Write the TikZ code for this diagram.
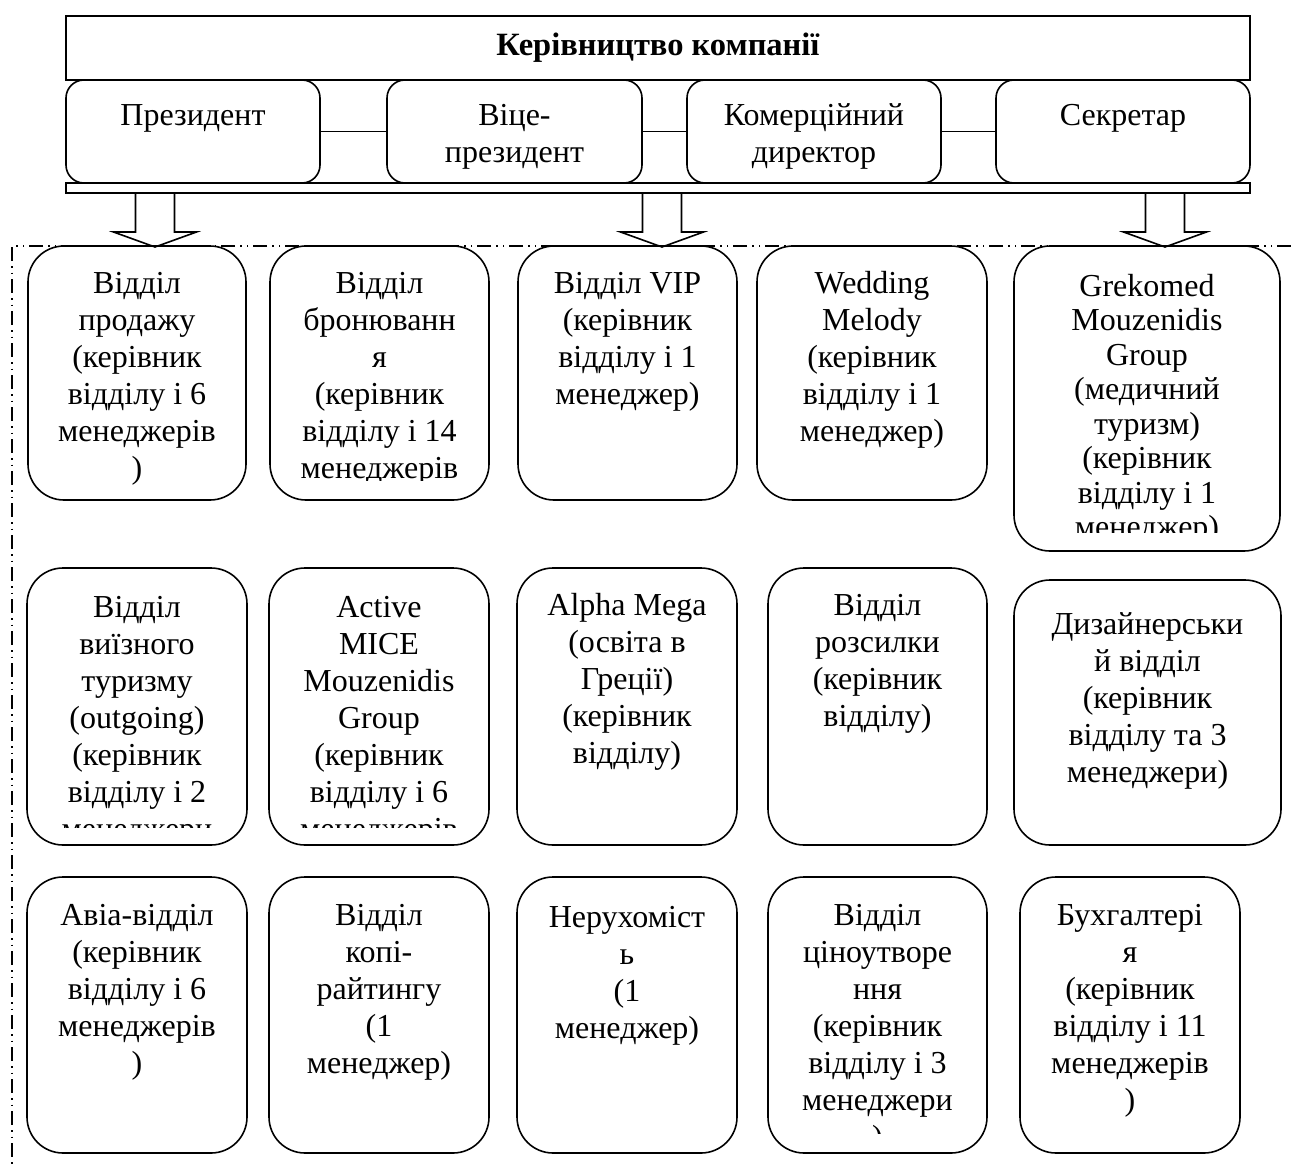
\documentclass[tikz,border=0pt]{standalone}
\usepackage{fontspec}
\setmainfont{Liberation Serif}
\newcommand\tstrut{\vrule height 26pt depth 0pt width 0pt}
\tikzset{
  dept/.style={draw, line width=1.6pt, rounded corners=36pt, inner sep=0pt},
  head/.style={draw, line width=1.6pt, rounded corners=18pt, inner sep=0pt},
  txt/.style={anchor=north, align=center, inner sep=0pt, font=\fontsize{32}{37}\selectfont},
  conn/.style={line width=1.6pt},
  barr/.style={line width=1.6pt, line join=miter},
  ddot/.style={line width=1.1pt, dash pattern=on 14pt off 5pt on 1.5pt off 5pt on 1.5pt off 5pt}
}
% opts name x1 y1 x2 y2 baseline text
\newcommand\deptbox[8]{%
  \node[dept, minimum width={#5-#3}, minimum height={#6-#4}] (#2) at ({(#3+#5)/2},{(#4+#6)/2}) {};
  \node[txt,#1] (#2t) at ({(#3+#5)/2},{#7-26}) {\tstrut #8};
}
% opts name x1 y1 x2 y2 baseline text clipy
\newcommand\deptclip[9]{%
  \node[dept, minimum width={#5-#3}, minimum height={#6-#4}] (#2) at ({(#3+#5)/2},{(#4+#6)/2}) {};
  \begin{scope}
    \clip (#3,#4) rectangle (#5,#9);
    \node[txt,#1] (#2t) at ({(#3+#5)/2},{#7-26}) {\tstrut #8};
  \end{scope}
}
\begin{document}
\begin{tikzpicture}[x=1pt,y=-1pt]
\useasboundingbox (0,0) rectangle (1291,1167);

% dash-dot frame
\coordinate (fc) at (12,246);
\coordinate (fr) at (1291,246);
\coordinate (fb) at (12,1167);
\draw[ddot] (fr) -- (fc) -- (fb);

% top management
\node[draw, line width=1.6pt, minimum width=1184pt, minimum height=64pt, inner sep=0pt,
      font=\fontsize{32.5}{37}\selectfont\bfseries] (top) at (658,48) {Керівництво компанії};

\node[head, minimum width=254pt, minimum height=103pt] (pres) at (193,131.5) {};
\node[head, minimum width=255pt, minimum height=103pt] (vp) at (514.5,131.5) {};
\node[head, minimum width=254pt, minimum height=103pt] (kom) at (814,131.5) {};
\node[head, minimum width=254pt, minimum height=103pt] (sec) at (1123,131.5) {};
\node[txt] (prest) at (193,99) {\tstrut Президент};
\node[txt] (vpt) at (514.5,99) {\tstrut Віце-\\президент};
\node[txt] (komt) at (814,99) {\tstrut Комерційний\\директор};
\node[txt] (sect) at (1123,99) {\tstrut Секретар};
\draw[conn] (pres.east) -- (vp.west);
\draw[conn] (vp.east) -- (kom.west);
\draw[conn] (kom.east) -- (sec.west);

\node[draw, line width=1.6pt, minimum width=1184pt, minimum height=10pt, inner sep=0pt] (bar) at (658,188) {};

% block arrows
\foreach \c in {155,662,1165}{
  \draw[barr] (\c-19.5,193) -- (\c-19.5,232) -- (\c-41.5,232) -- (\c,247)
     -- (\c+41.5,232) -- (\c+19.5,232) -- (\c+19.5,193);
}

% row 1
\deptbox{}{b11}{28}{246}{246}{500}{293}{Відділ\\продажу\\(керівник\\відділу і 6\\менеджерів\\)}
\deptclip{}{b12}{270}{246}{489}{500}{293}{Відділ\\бронюванн\\я\\(керівник\\відділу і 14\\менеджерів}{480}
\deptbox{}{b13}{518}{246}{737}{500}{293}{Відділ VIP\\(керівник\\відділу і 1\\менеджер)}
\deptbox{}{b14}{757}{246}{987}{500}{293}{Wedding\\Melody\\(керівник\\відділу і 1\\менеджер)}
\deptclip{font=\fontsize{32}{34.5}\selectfont}{b15}{1014}{246}{1280}{551}{296}{Grekomed\\Mouzenidis\\Group\\(медичний\\туризм)\\(керівник\\відділу і 1\\менеджер)}{532}

% row 2
\deptclip{}{b21}{27}{568}{247}{845}{617}{Відділ\\виїзного\\туризму\\(outgoing)\\(керівник\\відділу і 2\\менеджери}{827}
\deptclip{}{b22}{269}{568}{489}{845}{617}{Active\\MICE\\Mouzenidis\\Group\\(керівник\\відділу і 6\\менеджерів}{827}
\deptbox{}{b23}{517}{568}{737}{845}{615}{Alpha Mega\\(освіта в\\Греції)\\(керівник\\відділу)}
\deptbox{}{b24}{768}{568}{987}{845}{615}{Відділ\\розсилки\\(керівник\\відділу)}
\deptbox{}{b25}{1014}{580}{1281}{845}{634}{Дизайнерськи\\й відділ\\(керівник\\відділу та 3\\менеджери)}

% row 3
\deptbox{}{b31}{27}{877}{247}{1153}{925}{Авіа-відділ\\(керівник\\відділу і 6\\менеджерів\\)}
\deptbox{}{b32}{269}{877}{489}{1153}{925}{Відділ\\копі-\\райтингу\\(1\\менеджер)}
\deptbox{}{b33}{517}{877}{737}{1153}{927}{Нерухоміст\\ь\\(1\\менеджер)}
\deptclip{}{b34}{768}{877}{987}{1153}{925}{Відділ\\ціноутворе\\ння\\(керівник\\відділу і 3\\менеджери\\)}{1133}
\deptbox{}{b35}{1020}{877}{1240}{1153}{925}{Бухгалтері\\я\\(керівник\\відділу і 11\\менеджерів\\)}
\end{tikzpicture}
\end{document}
